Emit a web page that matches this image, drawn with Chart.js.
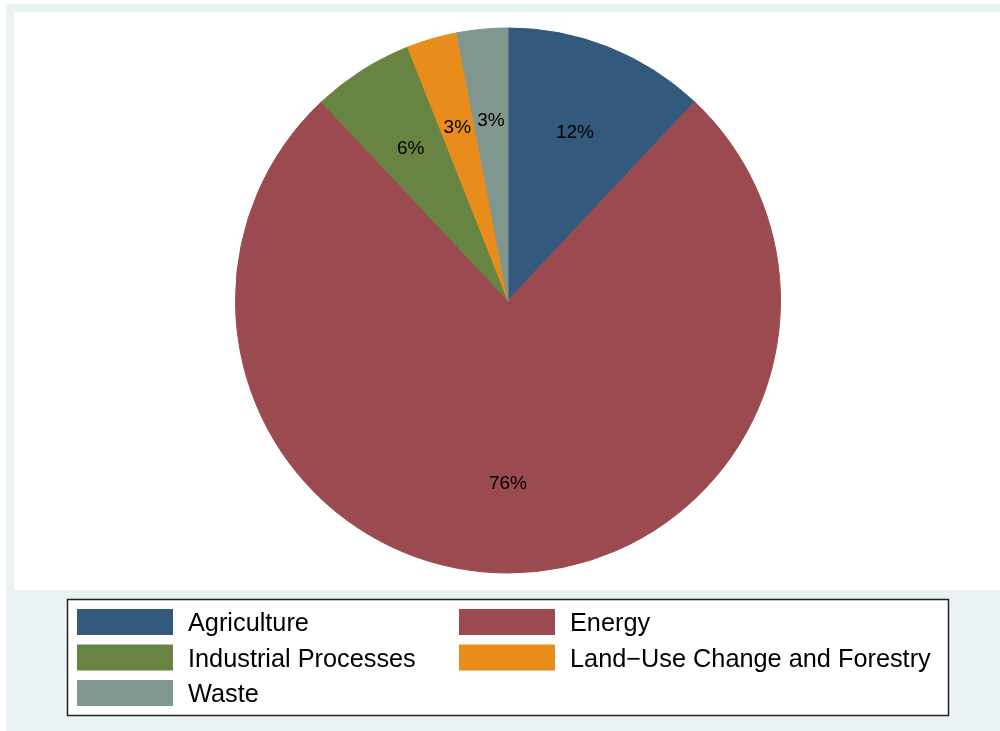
<!DOCTYPE html>
<html>
<head>
<meta charset="utf-8">
<title>Emissions by sector</title>
<script src="https://cdn.jsdelivr.net/npm/chart.js@4.4.1/dist/chart.umd.min.js"></script>
<style>
  html, body { margin: 0; padding: 0; background: #fff; }
  #wrap { width: 1000px; height: 731px; }
</style>
</head>
<body>
<div id="wrap"><canvas id="pie" width="1000" height="731"></canvas></div>
<script>
// sector shares, percent
const sectors = ["Agriculture", "Energy", "Industrial Processes", "Land\u2212Use Change and Forestry", "Waste"];
const shares = [12, 76, 6, 3, 3];
const colors = ["#33597C", "#9B4A50", "#688442", "#E88C1C", "#7F978E"];

const FONT = '"Liberation Sans", Arial, Helvetica, sans-serif';

// background panels (outer grey frame, white plot region)
const framePlugin = {
  id: 'frame',
  beforeDraw(chart) {
    const ctx = chart.ctx;
    ctx.save();
    ctx.fillStyle = '#ffffff';
    ctx.fillRect(0, 0, chart.width, chart.height);
    ctx.fillStyle = '#EAF2F3';
    ctx.fillRect(6, 4, chart.width - 6, chart.height - 4);
    ctx.fillStyle = '#ffffff';
    ctx.fillRect(14, 12, chart.width - 14, 578);
    ctx.restore();
  }
};

// percentage labels placed at 2/3 of the radius
const sliceLabels = {
  id: 'sliceLabels',
  afterDatasetsDraw(chart) {
    const ctx = chart.ctx;
    const meta = chart.getDatasetMeta(0);
    const data = chart.data.datasets[0].data;
    const total = data.reduce((a, b) => a + b, 0);
    ctx.save();
    ctx.font = '19px ' + FONT;
    ctx.fillStyle = '#000';
    ctx.textAlign = 'center';
    ctx.textBaseline = 'alphabetic';
    meta.data.forEach((arc, i) => {
      const p = arc.getProps(['x', 'y', 'startAngle', 'endAngle', 'outerRadius'], true);
      const mid = (p.startAngle + p.endAngle) / 2;
      const r = p.outerRadius * 0.667;
      const x = p.x + Math.cos(mid) * r;
      const y = p.y + Math.sin(mid) * r;
      ctx.fillText(Math.round(data[i] / total * 100) + '%', x, y + 6.8);
    });
    ctx.restore();
  }
};

// boxed two-column legend under the pie
const boxLegend = {
  id: 'boxLegend',
  afterDraw(chart) {
    const ctx = chart.ctx;
    const labels = chart.data.labels;
    const bg = chart.data.datasets[0].backgroundColor;
    ctx.save();
    ctx.fillStyle = '#ffffff';
    ctx.fillRect(67, 599, 882, 117);
    ctx.strokeStyle = '#222';
    ctx.lineWidth = 1.5;
    ctx.strokeRect(67.5, 599.5, 881, 116);
    ctx.font = '25.3px ' + FONT;
    ctx.textBaseline = 'alphabetic';
    ctx.textAlign = 'left';
    const colX = [77, 459];
    const rowY = [609, 644.5, 680];
    labels.forEach((lab, i) => {
      const col = i % 2, row = Math.floor(i / 2);
      const x = colX[col], y = rowY[row];
      ctx.fillStyle = bg[i];
      ctx.fillRect(x, y, 96, 26);
      ctx.fillStyle = '#000';
      ctx.fillText(lab, x + 111, y + 13 + 9);
    });
    ctx.restore();
  }
};

new Chart(document.getElementById('pie'), {
  type: 'pie',
  data: {
    labels: sectors,
    datasets: [{
      data: shares,
      backgroundColor: colors,
      borderColor: colors,
      borderWidth: 1
    }]
  },
  options: {
    responsive: false,
    animation: false,
    layout: { padding: { top: 27.5, bottom: 157.5, left: 16, right: 0 } },
    plugins: {
      legend: { display: false },
      tooltip: { enabled: false }
    }
  },
  plugins: [framePlugin, sliceLabels, boxLegend]
});
</script>
</body>
</html>
